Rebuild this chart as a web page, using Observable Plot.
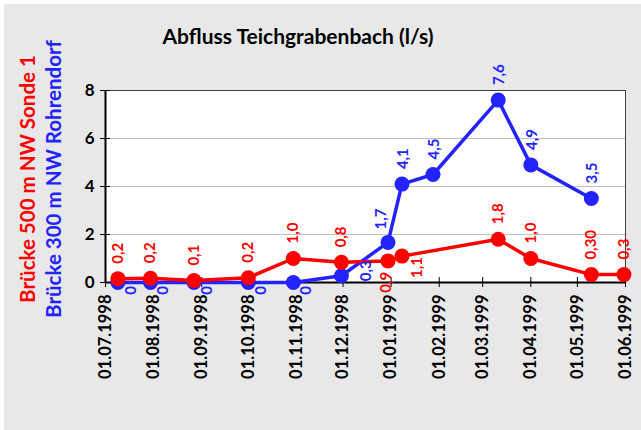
<!DOCTYPE html>
<html>
<head>
<meta charset="utf-8">
<script src="https://cdn.jsdelivr.net/npm/d3@7"></script>
<script src="https://cdn.jsdelivr.net/npm/@observablehq/plot@0.6"></script>
<style>
  html, body { margin: 0; padding: 0; background: #ffffff; }
  #wrap { position: relative; width: 641px; height: 430px; overflow: hidden; font-family: Lato, "Open Sans", sans-serif; }
  #bg { position: absolute; left: 4px; top: 4px; right: 0; bottom: 0; background: #e8e8e8; }
  #chart { position: absolute; left: 0; top: 0; }
  #title { position: absolute; left: 298px; top: 35px; transform: translate(-50%, -50%); font-weight: bold; font-size: 21px; color: #000; white-space: nowrap; }
  .ylab { position: absolute; top: 179px; transform: translate(-50%, -50%) rotate(-90deg); font-weight: bold; font-size: 20.5px; white-space: nowrap; }
</style>
</head>
<body>
<div id="wrap">
  <div id="bg"></div>
  <div id="chart"></div>
  <div id="title">Abfluss Teichgrabenbach (l/s)</div>
  <div class="ylab" style="left:27px;color:#ff0000">Brücke 500 m NW Sonde 1</div>
  <div class="ylab" style="left:53px;color:#2323ff">Brücke 300 m NW Rohrendorf</div>
</div>
<script>
// ---- data ----
const xTicks = ["1998-07-01","1998-08-01","1998-09-01","1998-10-01","1998-11-01","1998-12-01",
                "1999-01-01","1999-02-01","1999-03-01","1999-04-01","1999-05-01","1999-06-01"];
const yTicks = [0, 2, 4, 6, 8];

const redName = "Brücke 500 m NW Sonde 1";
const redDates = ["1998-07-09","1998-07-30","1998-08-27","1998-10-01","1998-10-30","1998-11-30",
                  "1998-12-30","1999-01-08","1999-03-11","1999-04-01","1999-05-10","1999-05-31"];
const redValues = [0.16, 0.18, 0.08, 0.2, 1.0, 0.84, 0.9, 1.1, 1.8, 1.0, 0.33, 0.33];
const redLabels = ["0,2","0,2","0,1","0,2","1,0","0,8","0,9","1,1","1,8","1,0","0,30","0,3"];

const blueName = "Brücke 300 m NW Rohrendorf";
const blueDates = ["1998-07-09","1998-07-30","1998-08-27","1998-10-01","1998-10-30","1998-11-30",
                   "1998-12-30","1999-01-08","1999-01-28","1999-03-11","1999-04-01","1999-05-10"];
const blueValues = [0, 0, 0, 0, 0, 0.28, 1.67, 4.1, 4.5, 7.6, 4.9, 3.5];
const blueLabels = ["0","0","0","0","0","0,3","1,7","4,1","4,5","7,6","4,9","3,5"];

// ---- build ----
const parse = d3.utcParse("%Y-%m-%d");
const fmt = d3.utcFormat("%d.%m.%Y");
const tickDates = xTicks.map(parse);
const red = redDates.map((d, i) => ({date: parse(d), value: redValues[i], label: redLabels[i], i}));
const blue = blueDates.map((d, i) => ({date: parse(d), value: blueValues[i], label: blueLabels[i], i}));

const RED = "#ff0000", BLUE = "#2323ff";
const W = 641, H = 430, ML = 105, MR = 16, MT = 90, MB = 148;
const frameW = W - ML - MR, frameH = H - MT - MB;

// label placement rules (by point index)
const blueZero = new Set([0,1,2,3,4]);
const labelFont = {fontSize: 15, fontWeight: "bold", rotate: -90};

const chart = Plot.plot({
  width: W, height: H,
  marginLeft: ML, marginRight: MR, marginTop: MT, marginBottom: MB,
  style: {background: "transparent", fontFamily: "Lato, 'Open Sans', sans-serif"},
  x: {type: "utc", domain: [tickDates[0], tickDates[tickDates.length - 1]], label: null},
  y: {domain: [0, 8], label: null},
  marks: [
    Plot.frame({fill: "white", stroke: "#404040", strokeWidth: 1}),
    Plot.gridY(yTicks.filter(d => d > 0 && d < 8), {stroke: "#c0c0c0", strokeOpacity: 1}),
    Plot.ruleY([0], {stroke: "black", strokeWidth: 2}),
    Plot.ruleX([tickDates[0]], {stroke: "black", strokeWidth: 2}),
    Plot.axisY(yTicks, {tickSize: 5, tickPadding: 6, fontSize: 17, fontWeight: "bold", label: null, stroke: "black", strokeWidth: 1}),
    Plot.tickY(yTicks, {y: d => d, insetRight: frameW - 5, stroke: "black"}),
    Plot.axisX(tickDates, {tickSize: 5, tickPadding: 7, tickRotate: -90, tickFormat: fmt, fontSize: 16.5, fontWeight: "bold", label: null, stroke: "black"}),
    Plot.tickX(tickDates, {x: d => d, insetTop: frameH - 5, stroke: "black"}),
    // blue series
    Plot.line(blue, {x: "date", y: "value", stroke: BLUE, strokeWidth: 3.5}),
    Plot.dot(blue, {x: "date", y: "value", r: 7.5, fill: BLUE}),
    // red series
    Plot.line(red, {x: "date", y: "value", stroke: RED, strokeWidth: 3.5}),
    Plot.dot(red, {x: "date", y: "value", r: 7.5, fill: RED}),
    // blue labels
    Plot.text(blue.filter(d => blueZero.has(d.i)), {x: "date", y: "value", text: "label", fill: BLUE, ...labelFont, textAnchor: "middle", dx: 13, dy: 8}),
    Plot.text(blue.filter(d => d.i === 5), {x: "date", y: "value", text: "label", fill: BLUE, ...labelFont, textAnchor: "middle", dx: 25, dy: -5}),
    Plot.text(blue.filter(d => d.i === 6), {x: "date", y: "value", text: "label", fill: BLUE, ...labelFont, textAnchor: "start", dx: -7, dy: -13}),
    Plot.text(blue.filter(d => d.i > 6), {x: "date", y: "value", text: "label", fill: BLUE, ...labelFont, textAnchor: "start", dx: 1, dy: -15}),
    // red labels
    Plot.text(red.filter(d => d.i !== 6 && d.i !== 7), {x: "date", y: "value", text: "label", fill: RED, ...labelFont, textAnchor: "start", dx: 0, dy: -15}),
    Plot.text(red.filter(d => d.i === 6), {x: "date", y: "value", text: "label", fill: RED, ...labelFont, textAnchor: "end", dx: -2, dy: 11}),
    Plot.text(red.filter(d => d.i === 7), {x: "date", y: "value", text: "label", fill: RED, ...labelFont, textAnchor: "end", dx: 15, dy: 1})
  ]
});
document.getElementById("chart").appendChild(chart);
</script>
</body>
</html>
